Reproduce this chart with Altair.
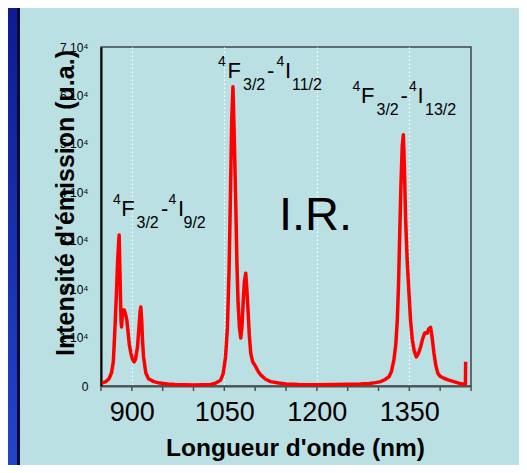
import altair as alt
import pandas as pd

# ---- spectrum ----
wavelength = [851, 858, 863, 867, 870, 872.5, 875, 877, 879.4, 881, 882.5, 883.3, 884.5, 886,
              887.5, 889.5, 891.9, 894, 896, 898.4, 901, 903.7, 906, 909.2, 911.5, 913.5, 914.6,
              916, 917.3, 919, 922.7, 927, 935.6, 945, 958, 970, 985, 1000, 1015, 1028, 1036,
              1044, 1048, 1052, 1055, 1057.7, 1060, 1062, 1064, 1066, 1068.5, 1070.5, 1072.3,
              1074.5, 1076.6, 1078.5, 1080.5, 1082.5, 1084.7, 1086.5, 1088.4, 1090.5, 1092.8,
              1096, 1100.9, 1105, 1109, 1117, 1125, 1138, 1150, 1170, 1200, 1230, 1250, 1270,
              1285, 1295, 1303.5, 1310, 1317, 1321, 1325, 1328, 1330.5, 1332.5, 1334.3, 1336.5,
              1338.5, 1340.3, 1342, 1344, 1346.5, 1349.4, 1352, 1354.9, 1358, 1361.4, 1365,
              1368.4, 1371.5, 1374.9, 1377, 1379, 1381.5, 1384.5, 1387, 1389.9, 1393, 1396.3,
              1400, 1406, 1414, 1422, 1430, 1435.9, 1441, 1441.3]
intensity = [600, 900, 1500, 2700, 5000, 11600, 19000, 26000, 31200, 22000, 13500, 12200, 14500,
             15700, 15700, 15000, 13600, 11000, 8500, 6800, 5500, 5000, 5500, 8100, 12000, 15500,
             16300, 13500, 9500, 6000, 2700, 1500, 900, 600, 400, 300, 250, 200, 250, 300, 600,
             1200, 2500, 6000, 12000, 24000, 40000, 55000, 61800, 52000, 37800, 25000, 17100,
             12000, 9900, 12000, 17100, 21500, 23300, 20000, 15700, 10500, 6800,
             5000, 4000, 3000, 2300, 1400, 900, 600, 400, 300, 250, 300, 350, 400,
             500, 700, 900, 1300, 1900, 3000, 5400, 8500, 13600, 21000, 30800, 42000,
             49500, 51900, 45000, 34300, 26000, 19200, 13500, 9500, 7200, 6000, 6800,
             8100, 9700, 10900, 11000, 10900, 11800, 12100, 10000, 6800, 4200, 2600,
             2000, 1600, 1200, 900, 600, 400, 400, 5000]

x_ticks = [850, 900, 950, 1000, 1050, 1100, 1150, 1200, 1250, 1300, 1350, 1400, 1450]
x_labels = [900, 1050, 1200, 1350]
y_ticks = [0, 10000, 20000, 30000, 40000, 50000, 60000, 70000]

# ---- transition labels (pieces anchored in data units) ----
main_text = ["F", "-", "I", "F", "-", "I", "F", "-", "I"]
main_wl = [882.9, 947.3, 974.9, 1055.1, 1119.2, 1148.4, 1271.6, 1335.7, 1363.2]
main_int = [35100, 35100, 35100, 63600, 63600, 63600, 58500, 58500, 58500]

sup_text = ["4", "4", "4", "4", "4", "4"]
sup_wl = [869.5, 959.5, 1039.7, 1134.6, 1257.8, 1349.5]
sup_int = [35100, 35100, 63600, 63600, 58500, 58500]

sub_text = ["3/2", "9/2", "3/2", "11/2", "3/2", "13/2"]
sub_wl = [907.6, 983.8, 1080.3, 1159.7, 1296.8, 1375.4]
sub_int = [35100, 35100, 63600, 63600, 58500, 58500]

ir_text = ["I.R."]
ir_wl = [1138.6]
ir_int = [32200]

FONT = "Liberation Sans"
PANEL = "#bbe0e3"

spec_df = pd.DataFrame({"wl": wavelength, "I": intensity})
tick_df = pd.DataFrame({"wl": x_ticks})
main_df = pd.DataFrame({"t": main_text, "wl": main_wl, "I": main_int})
sup_df = pd.DataFrame({"t": sup_text, "wl": sup_wl, "I": sup_int})
sub_df = pd.DataFrame({"t": sub_text, "wl": sub_wl, "I": sub_int})
ir_df = pd.DataFrame({"t": ir_text, "wl": ir_wl, "I": ir_int})
one = pd.DataFrame({"k": [0]})

xscale = alt.Scale(domain=[850, 1450], nice=False, zero=False)
yscale = alt.Scale(domain=[0, 70000], nice=False)

x_axis = alt.Axis(
    values=x_labels, format="d",
    labelOverlap=False, labelFlush=False,
    labelFont=FONT, labelFontSize=27, labelColor="black", labelPadding=13,
    ticks=False, tickSize=0,
    domainColor="#4a5252", domainWidth=2,
    grid=True, gridColor="white", gridWidth=1.2, gridDash=[1.5, 2.5], gridOpacity=1,
    title="Longueur d'onde (nm)", titleFont=FONT, titleFontSize=24.5,
    titleFontWeight="bold", titleColor="black",
    titleX=194, titleY=69, titleAlign="center", titleBaseline="alphabetic",
)
y_axis = alt.Axis(
    values=y_ticks,
    labelExpr="datum.value == 0 ? '0' : format(datum.value / 10000, 'd') + ' 10\u2074'",
    labelFont=FONT, labelFontSize=12, labelColor="black", labelPadding=13,
    ticks=False, tickSize=0, labelOverlap=False, labelFlush=False,
    domainColor="black", domainWidth=2, grid=False,
    title="Intensité d'émission (u.a.)", titleFont=FONT, titleFontSize=25,
    titleFontWeight="bold", titleColor="black", titleAngle=270,
    titleX=-27.7, titleY=155.5, titleAlign="center", titleBaseline="alphabetic",
)

# decorative left strip of the slide (blue gradient + dark border)
strip = alt.Chart(one).mark_rect(
    fill=alt.LinearGradient(
        gradient="linear",
        stops=[alt.GradientStop(color="#0e1b94", offset=0),
               alt.GradientStop(color="#2244cb", offset=1)],
        x1=0, x2=0, y1=0, y2=1),
).encode(x=alt.value(-93), x2=alt.value(-84), y=alt.value(-39), y2=alt.value(418))
border = alt.Chart(one).mark_rect(fill="#0b0c36").encode(
    x=alt.value(-84), x2=alt.value(-81), y=alt.value(-39), y2=alt.value(418))

# small outward ticks every 50 nm on the x axis
ticks = alt.Chart(tick_df).mark_rule(color="#4a5252", strokeWidth=1.5).encode(
    x=alt.X("wl:Q", scale=xscale, axis=x_axis),
    y=alt.value(339), y2=alt.value(344))

line = alt.Chart(spec_df).mark_line(color="#ff0000", strokeWidth=3.5, strokeJoin="round").encode(
    x=alt.X("wl:Q", scale=xscale, axis=x_axis),
    y=alt.Y("I:Q", scale=yscale, axis=y_axis),
    order="wl:Q",
)

main_t = alt.Chart(main_df).mark_text(font=FONT, fontSize=22, align="left",
                                      baseline="alphabetic", color="black").encode(
    x=alt.X("wl:Q", scale=xscale), y=alt.Y("I:Q", scale=yscale), text="t:N")
sup_t = alt.Chart(sup_df).mark_text(font=FONT, fontSize=14, align="left",
                                    baseline="alphabetic", color="black", dy=-12).encode(
    x=alt.X("wl:Q", scale=xscale), y=alt.Y("I:Q", scale=yscale), text="t:N")
sub_t = alt.Chart(sub_df).mark_text(font=FONT, fontSize=16, align="left",
                                    baseline="alphabetic", color="black", dy=12).encode(
    x=alt.X("wl:Q", scale=xscale), y=alt.Y("I:Q", scale=yscale), text="t:N")
ir_t = alt.Chart(ir_df).mark_text(font=FONT, fontSize=47, align="left",
                                  baseline="alphabetic", color="black").encode(
    x=alt.X("wl:Q", scale=xscale), y=alt.Y("I:Q", scale=yscale), text="t:N")

chart = alt.layer(strip, border, ticks, line, main_t, sup_t, sub_t, ir_t).properties(
    width=370, height=339,
    autosize=alt.AutoSizeParams(type="none"),
    padding={"left": 93, "top": 39, "right": 48, "bottom": 79},
    background=PANEL,
).configure_view(stroke="#3e4646", strokeWidth=1.5)

chart.save("out.html", embed_options={"renderer": "svg", "actions": False})
